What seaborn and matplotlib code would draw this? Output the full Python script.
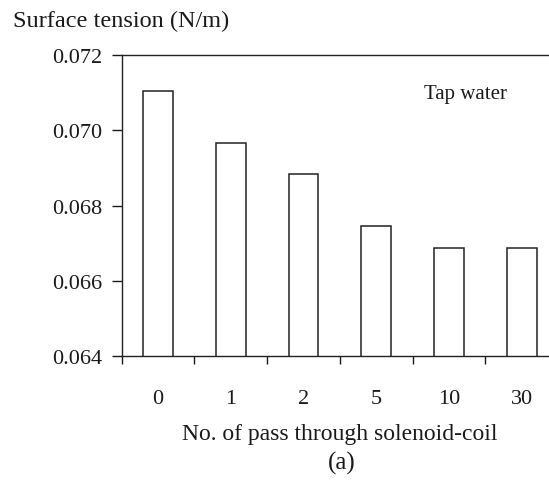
import matplotlib
matplotlib.use("Agg")
import matplotlib.pyplot as plt
import numpy as np
import pandas as pd
import seaborn as sns

# values
passes = ["0", "1", "2", "5", "10", "30"]
tension = [0.07106, 0.06966, 0.06884, 0.06746, 0.06687, 0.06687]
y_ticks = [0.064, 0.066, 0.068, 0.070, 0.072]

sns.set_style("ticks")
plt.rcParams["font.family"] = ["Liberation Serif", "DejaVu Serif"]
plt.rcParams["text.color"] = "#1a1a1a"
plt.rcParams["axes.labelcolor"] = "#1a1a1a"
plt.rcParams["xtick.color"] = "#1a1a1a"
plt.rcParams["ytick.color"] = "#1a1a1a"

df = pd.DataFrame({"passes": passes, "tension": tension})

fig = plt.figure(figsize=(5.49, 4.81), dpi=100)
# axes run past the right edge, as in the cropped original
ax = fig.add_axes([0.2217, 0.2578, 0.7948, 0.6252])

sns.barplot(data=df, x="passes", y="tension", order=passes, ax=ax,
            color="white", edgecolor="#222222", linewidth=1.1, width=0.41,
            saturation=1)

ax.set_ylim(0.064, 0.072)
ax.set_xlim(-0.5, len(passes) - 0.5)
ax.set_yticks(y_ticks)
ax.set_yticklabels([f"{v:.3f}" for v in y_ticks])

# labels centred on bars, tick marks on category boundaries
ax.set_xticks(np.arange(len(passes)))
ax.set_xticklabels(passes)
ax.set_xticks(np.arange(len(passes) + 1) - 0.5, minor=True)
ax.tick_params(axis="x", which="major", length=0, pad=24, labelsize=16)
ax.tick_params(axis="x", which="minor", length=6, width=1.0, direction="out")
ax.tick_params(axis="y", length=7, width=1.0, pad=7, labelsize=16,
               direction="out")

for side in ["left", "top", "bottom"]:
    ax.spines[side].set_visible(True)
    ax.spines[side].set_linewidth(1.0)
    ax.spines[side].set_color("#222222")
ax.spines["right"].set_visible(False)

ax.set_ylabel("")
ax.set_xlabel("No. of pass through solenoid-coil", fontsize=17, va="center")
ax.xaxis.set_label_coords(0.5, -0.259)

ax.text(0.789, 0.857, "Tap water", transform=ax.transAxes, fontsize=15,
        ha="center", va="baseline")
fig.text(0.023, 0.9445, "Surface tension (N/m)", fontsize=17.5,
         ha="left", va="baseline")
fig.text(0.6224, 0.037, "(a)", fontsize=18, ha="center", va="center")

fig.savefig("out.png", dpi=100)
